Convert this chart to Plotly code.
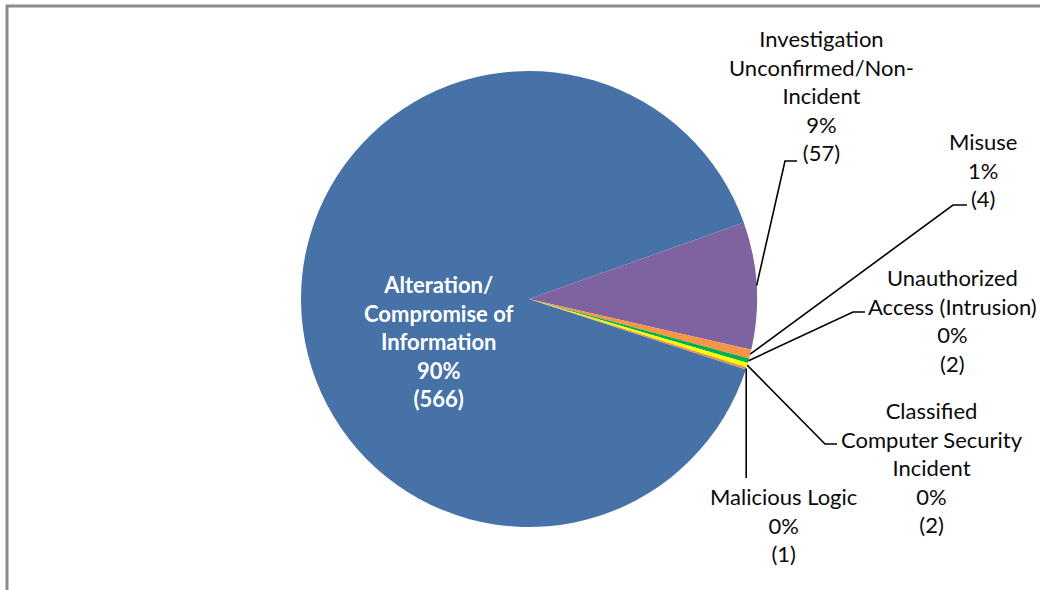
import math
import plotly.graph_objects as go

# Incident categories and counts
categories = [
    "Alteration/ Compromise of Information",
    "Investigation Unconfirmed/Non-Incident",
    "Misuse",
    "Unauthorized Access (Intrusion)",
    "Classified Computer Security Incident",
    "Malicious Logic",
]
counts = [566, 57, 4, 2, 2, 1]
# wrapped versions of the category names used for the data labels
label_lines = [
    ["Alteration/", "Compromise of", "Information"],
    ["Investigation", "Unconfirmed/Non-", "Incident"],
    ["Misuse"],
    ["Unauthorized", "Access (Intrusion)"],
    ["Classified", "Computer Security", "Incident"],
    ["Malicious Logic"],
]
colors = ["#4672A7", "#7F63A1", "#F79646", "#00B050", "#FFFF00", "#E2924C"]

W, H = 1040, 590
CX, CY, R = 529, 299, 228        # pie centre and radius in pixels
ROTATION = 108.0                 # first slice starts here, clockwise from 12 o'clock

# label placement: text centre, and leader elbow -> end (pixels)
label_pos = [
    dict(text=(439, 341), elbow=None, end=None),
    dict(text=(821, 95), elbow=(785, 161), end=(797, 161)),
    dict(text=(983, 170), elbow=(953, 205), end=(967, 205)),
    dict(text=(952, 320), elbow=(853, 312), end=(865, 312)),
    dict(text=(932, 467), elbow=(825, 444), end=(837, 444)),
    dict(text=(783, 525), elbow="down", end=478),
]


def px(x):
    return x / W


def py(y):
    return 1 - y / H


total = sum(counts)

fig = go.Figure(
    go.Pie(
        labels=categories,
        values=counts,
        sort=False,
        direction="clockwise",
        rotation=ROTATION,
        marker=dict(colors=colors, line=dict(width=0)),
        textinfo="none",
        showlegend=False,
        domain=dict(x=[px(CX - R), px(CX + R)], y=[py(CY + R), py(CY - R)]),
    )
)

annotations = []
shapes = []
cum = 0.0
for i, (cat, v) in enumerate(zip(categories, counts)):
    mid = ROTATION + (cum + v / 2) / total * 360.0
    cum += v
    a = math.radians(mid)
    ax, ay = CX + R * math.sin(a), CY - R * math.cos(a)

    pct = round(100 * v / total)
    text = "<br>".join(label_lines[i] + [f"{pct}%", f"({v})"])
    pos = label_pos[i]
    if i == 0:
        font = dict(family="Lato", size=22, color="white", weight="bold")
    else:
        font = dict(family="Lato", size=22, color="#0A0A0A")
    annotations.append(
        dict(
            x=px(pos["text"][0]), y=py(pos["text"][1]),
            xref="paper", yref="paper",
            text=text, showarrow=False,
            xanchor="center", yanchor="middle", align="center",
            font=font,
        )
    )

    if pos["elbow"] is None:
        continue
    if pos["elbow"] == "down":
        path = f"M {px(ax)} {py(ay)} L {px(ax)} {py(pos['end'])}"
    else:
        ex, ey = pos["elbow"]
        hx, hy = pos["end"]
        path = (f"M {px(ax)} {py(ay)} L {px(ex)} {py(ey)} "
                f"L {px(hx)} {py(hy)}")
    shapes.append(
        dict(type="path", xref="paper", yref="paper", path=path,
             line=dict(color="black", width=1.6))
    )

# chart frame (top and left edges visible)
shapes.append(
    dict(type="rect", xref="paper", yref="paper",
         x0=px(7), x1=1.02, y0=-0.02, y1=py(6),
         line=dict(color="#8C8C8C", width=3), fillcolor="rgba(0,0,0,0)")
)

fig.update_layout(
    width=W, height=H,
    margin=dict(l=0, r=0, t=0, b=0),
    paper_bgcolor="white",
    plot_bgcolor="white",
    annotations=annotations,
    shapes=shapes,
)

fig.write_html("out.html")
